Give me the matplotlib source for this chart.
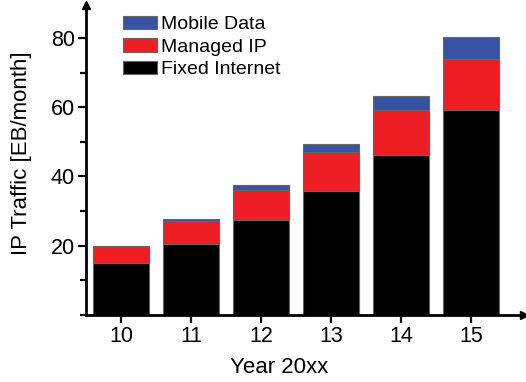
import matplotlib
matplotlib.use("Agg")
import matplotlib.pyplot as plt
from matplotlib.ticker import MultipleLocator
import numpy as np

plt.rcParams['font.family'] = ['Liberation Sans', 'DejaVu Sans']

years = [10, 11, 12, 13, 14, 15]
fixed_internet = [15.0, 20.6, 27.3, 35.8, 46.1, 59.2]
managed_ip = [4.8, 6.6, 8.9, 11.2, 13.1, 14.8]
mobile_data = [0.2, 0.6, 1.3, 2.3, 4.0, 6.3]

c_fixed = '#000000'
c_managed = '#ed1f24'
c_mobile = '#3953a4'
edge = '#666666'

fig = plt.figure(figsize=(5.26, 3.82), dpi=100)
ax = fig.add_axes([86 / 526, 67 / 382, 438 / 526, 310 / 382])

x = np.array(years)
fixed = np.array(fixed_internet)
managed = np.array(managed_ip)
mobile = np.array(mobile_data)

w = 0.8
b1 = ax.bar(x, fixed, width=w, color=c_fixed, edgecolor=edge, linewidth=0.8,
            label='Fixed Internet', zorder=2)
b2 = ax.bar(x, managed, width=w, bottom=fixed, color=c_managed, edgecolor=edge,
            linewidth=0.8, label='Managed IP', zorder=2)
b3 = ax.bar(x, mobile, width=w, bottom=fixed + managed, color=c_mobile,
            edgecolor=edge, linewidth=0.8, label='Mobile Data', zorder=2)

ax.set_xlim(9.5, 15.75)
ax.set_ylim(0, 89.5)

for s in ['top', 'right']:
    ax.spines[s].set_visible(False)
for s in ['left', 'bottom']:
    ax.spines[s].set_linewidth(2.0)
    ax.spines[s].set_zorder(3)

# arrow heads at the ends of the axes
ax.plot(0, 1, marker='^', color='black', markersize=6, transform=ax.transAxes,
        clip_on=False, zorder=4)
ax.plot(1, 0, marker='>', color='black', markersize=6, transform=ax.transAxes,
        clip_on=False, zorder=4)

ax.set_xticks(years)
ax.set_xticklabels([str(y) for y in years])
ax.yaxis.set_major_locator(MultipleLocator(20))
ax.yaxis.set_minor_locator(MultipleLocator(10))
ax.set_yticks([20, 40, 60, 80])
ax.tick_params(axis='both', which='major', length=6, width=1.6, labelsize=15.5,
               pad=2)
ax.tick_params(axis='y', which='minor', length=4, width=1.6)
ax.tick_params(axis='x', which='minor', length=0)

ax.set_xlabel('Year 20xx', fontsize=16)
ax.set_ylabel('IP Traffic [EB/month]', fontsize=16)
ax.xaxis.set_label_coords(0.44, -0.135)
ax.yaxis.set_label_coords(-0.123, 0.523)

ax.legend(handles=[b3, b2, b1], labels=['Mobile Data', 'Managed IP', 'Fixed Internet'],
          loc='upper left', bbox_to_anchor=(123 / 526, 1 - 16 / 382),
          bbox_transform=fig.transFigure, frameon=False, fontsize=14,
          handlelength=1.75, handleheight=0.68, handletextpad=0.2,
          labelspacing=0.25, borderpad=0, borderaxespad=0)

fig.savefig('out.png', dpi=100)
